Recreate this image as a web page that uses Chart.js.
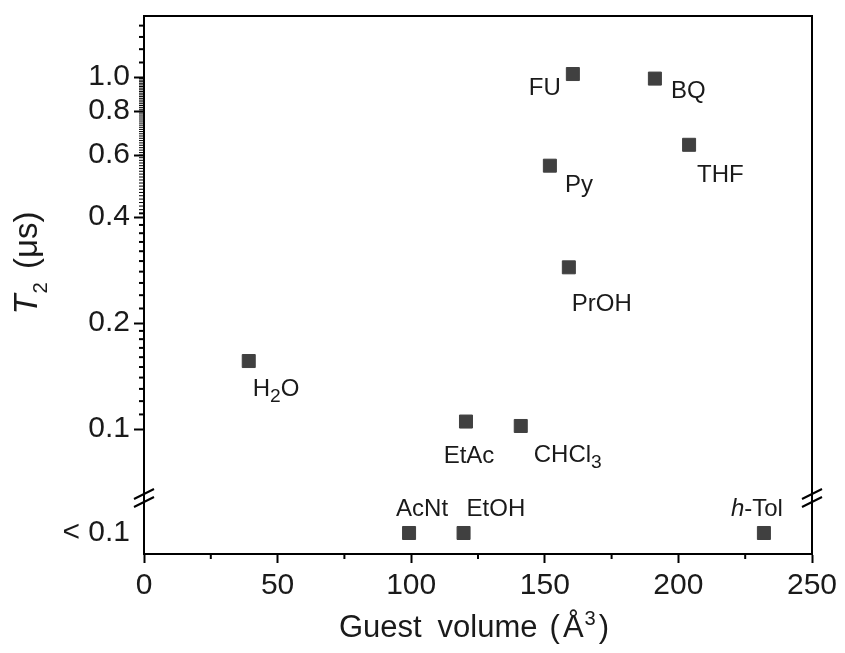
<!DOCTYPE html>
<html>
<head>
<meta charset="utf-8">
<script src="https://cdn.jsdelivr.net/npm/chart.js@4.4.0/dist/chart.umd.min.js"></script>
<style>
  html, body { margin: 0; padding: 0; background: #fff; }
  #wrap { width: 845px; height: 653px; }
</style>
</head>
<body>
<div id="wrap"><canvas id="chart" width="845" height="653"></canvas></div>
<script>
// guest molecules, as labelled in the figure
const guests = ['H2O', 'AcNt', 'EtAc', 'EtOH', 'CHCl3', 'Py', 'PrOH', 'FU', 'BQ', 'THF', 'h-Tol'];
// guest volume (Å^3)
const volumes = [39.2, 99.2, 120.5, 119.6, 141.0, 151.9, 159.0, 160.5, 191.2, 204.0, 232.0];
// T2 (µs); null means below 0.1 µs, shown on the "< 0.1" row
const t2 = [0.156, null, 0.105, null, 0.102, 0.56, 0.288, 1.02, 0.99, 0.642, null];

const belowLabel = '< 0.1';
const yTickValues = [0.1, 0.2, 0.4, 0.6, 0.8, 1.0];
const yTickLabels = ['0.1', '0.2', '0.4', '0.6', '0.8', '1.0'];
const xTickValues = [0, 50, 100, 150, 200, 250];
const xTickLabels = ['0', '50', '100', '150', '200', '250'];

// minor tick spacing on the log axis: [from, to, step]
const yMinorRanges = [[0.1, 0.2, 0.01], [0.2, 0.4, 0.02], [0.4, 1.0, 0.01], [1.0, 1.5, 0.1]];
const yMinor = [];
yMinorRanges.forEach(([a, b, s]) => {
  for (let k = 1; a + k * s < b - 1e-9; k++) yMinor.push(+(a + k * s).toFixed(3));
});

const FONT = '"Liberation Sans", Arial, Helvetica, sans-serif';
const INK = '#1a1a1a';
const MARK = '#404040';

// where each name sits relative to its marker
const labelPos = {
  'H2O':   { align: 'left',   dx: 4,   dy: 35 },
  'AcNt':  { align: 'center', dx: 13,  dy: -17 },
  'EtAc':  { align: 'center', dx: 3,   dy: 41 },
  'EtOH':  { align: 'left',   dx: 3,   dy: -17 },
  'CHCl3': { align: 'left',   dx: 13,  dy: 36 },
  'Py':    { align: 'left',   dx: 15,  dy: 26 },
  'PrOH':  { align: 'left',   dx: 3,   dy: 44 },
  'FU':    { align: 'right',  dx: -12, dy: 21 },
  'BQ':    { align: 'left',   dx: 16,  dy: 19 },
  'THF':   { align: 'left',   dx: 8,   dy: 37 },
  'h-Tol': { align: 'center', dx: -7,  dy: -17 }
};

function nameSegments(name) {
  if (name.startsWith('h-')) return [{ t: 'h', i: true }, { t: name.slice(1) }];
  return name.split(/(\d+)/).filter(s => s).map(s =>
    /^\d+$/.test(s) ? { t: s, s: 0.8, dy: 0.25 } : { t: s });
}

function drawRich(ctx, segs, x, y, align, size) {
  const fontOf = sg => (sg.i ? 'italic ' : '') + (size * (sg.s || 1)) + 'px ' + FONT;
  let total = 0;
  segs.forEach(sg => {
    ctx.font = fontOf(sg);
    sg.w = ctx.measureText(sg.t).width;
    total += sg.w + (sg.g || 0);
  });
  let cx = align === 'left' ? x : align === 'right' ? x - total : x - total / 2;
  ctx.textAlign = 'left';
  ctx.textBaseline = 'alphabetic';
  segs.forEach(sg => {
    ctx.font = fontOf(sg);
    ctx.fillText(sg.t, cx, y + (sg.dy || 0) * size);
    cx += sg.w + (sg.g || 0);
  });
}

const decor = {
  id: 'decor',
  afterDraw(chart) {
    const { ctx, chartArea: a, scales } = chart;
    const xs = scales.x, ys = scales.y;
    ctx.save();
    ctx.strokeStyle = '#000';
    ctx.lineWidth = 2;

    // frame top and right
    ctx.beginPath();
    ctx.moveTo(a.left - 1, a.top);
    ctx.lineTo(a.right, a.top);
    ctx.lineTo(a.right, a.bottom);
    ctx.stroke();

    // minor ticks, thinner where they crowd together
    yMinor.forEach((v, k) => {
      const p = ys.getPixelForValue(v);
      if (p < ys.top || p > ys.bottom) return;
      const next = k > 0 ? Math.abs(ys.getPixelForValue(yMinor[k - 1]) - p) : 10;
      ctx.lineWidth = next >= 5 ? 2 : 1;
      ctx.beginPath();
      ctx.moveTo(a.left, p);
      ctx.lineTo(a.left - 5, p);
      ctx.stroke();
    });
    ctx.lineWidth = 2;
    ctx.beginPath();
    xs.ticks.forEach(t => {
      if (xTickValues.includes(t.value)) return;
      const p = xs.getPixelForValue(t.value);
      ctx.moveTo(p, a.bottom);
      ctx.lineTo(p, a.bottom + 5);
    });
    ctx.stroke();

    // axis break marks
    const by = ys.bottom - 14;
    ctx.beginPath();
    [a.left, a.right].forEach(x0 => {
      [-4, 4].forEach(o => {
        ctx.moveTo(x0 - 10, by + o + 5);
        ctx.lineTo(x0 + 10, by + o - 5);
      });
    });
    ctx.stroke();

    // point names
    ctx.fillStyle = INK;
    chart.data.datasets.forEach((ds, di) => {
      const meta = chart.getDatasetMeta(di);
      meta.data.forEach((el, j) => {
        const name = ds.data[j].name;
        const lp = labelPos[name];
        drawRich(ctx, nameSegments(name), el.x + lp.dx, el.y + lp.dy, lp.align, 24);
      });
    });

    // axis titles
    drawRich(ctx, [
      { t: 'Guest', g: 16 }, { t: 'volume', g: 12 }, { t: '(', g: 3 },
      { t: 'Å', g: 1 }, { t: '3', s: 0.65, dy: -0.4, g: 3 }, { t: ')' }
    ], (a.left + a.right) / 2 - 4, 637, 'center', 31);

    ctx.translate(37, (ys.top + ys.bottom) / 2 - 1);
    ctx.rotate(-Math.PI / 2);
    drawRich(ctx, [
      { t: 'T', i: true, g: 1 }, { t: '2', s: 0.62, dy: 0.3, g: 4 }, { t: ' (μs)' }
    ], 0, 0, 'center', 33);
    ctx.restore();
  }
};

const measured = [];
const below = [];
guests.forEach((g, i) => {
  if (t2[i] === null) below.push({ x: volumes[i], y: belowLabel, name: g });
  else measured.push({ x: volumes[i], y: t2[i], name: g });
});

const markStyle = {
  pointStyle: 'rect',
  pointRadius: 9.2,
  pointHoverRadius: 9.2,
  backgroundColor: MARK,
  borderColor: MARK,
  borderWidth: 1
};

const tickFont = { family: FONT, size: 30 };

// left axes: fixed width, no extra room for half tick labels
const fitLeft = s => { s.width = 144; s.paddingTop = 0; s.paddingBottom = 0; };

new Chart(document.getElementById('chart'), {
  type: 'scatter',
  data: {
    datasets: [
      Object.assign({ label: 'T2', data: measured, yAxisID: 'y' }, markStyle),
      Object.assign({ label: belowLabel, data: below, yAxisID: 'yb' }, markStyle)
    ]
  },
  options: {
    responsive: false,
    animation: false,
    layout: { padding: { top: 16, right: 33, left: 0, bottom: 0 } },
    plugins: { legend: { display: false }, tooltip: { enabled: false } },
    scales: {
      x: {
        type: 'linear',
        min: 0,
        max: 250,
        afterFit: s => { s.height = 99; },
        grid: {
          drawOnChartArea: false,
          tickLength: 9,
          tickWidth: 2,
          tickColor: c => (c.tick && xTickValues.includes(c.tick.value)) ? '#000' : 'rgba(0,0,0,0)'
        },
        border: { color: '#000', width: 2 },
        ticks: {
          stepSize: 25,
          autoSkip: false,
          maxRotation: 0,
          padding: 5,
          color: INK,
          font: tickFont,
          callback: v => {
            const k = xTickValues.indexOf(v);
            return k >= 0 ? xTickLabels[k] : '';
          }
        }
      },
      yb: {
        type: 'category',
        labels: [belowLabel],
        offset: true,
        position: 'left',
        stack: 'v',
        stackWeight: 42,
        afterFit: fitLeft,
        grid: { drawOnChartArea: false, tickLength: 10, tickColor: 'rgba(0,0,0,0)' },
        border: { color: '#000', width: 2 },
        ticks: { padding: 4, color: INK, font: tickFont }
      },
      y: {
        type: 'logarithmic',
        position: 'left',
        stack: 'v',
        stackWeight: 496,
        min: 0.0581,
        max: 1.491,
        bounds: 'data',
        afterFit: fitLeft,
        afterBuildTicks: s => { s.ticks = yTickValues.map(v => ({ value: v })); },
        grid: { drawOnChartArea: false, tickLength: 10, tickWidth: 2, tickColor: '#000' },
        border: { color: '#000', width: 2 },
        ticks: {
          padding: 4,
          autoSkip: false,
          color: INK,
          font: tickFont,
          callback: v => {
            const k = yTickValues.indexOf(v);
            return k >= 0 ? yTickLabels[k] : '';
          }
        }
      }
    }
  },
  plugins: [decor]
});
</script>
</body>
</html>
